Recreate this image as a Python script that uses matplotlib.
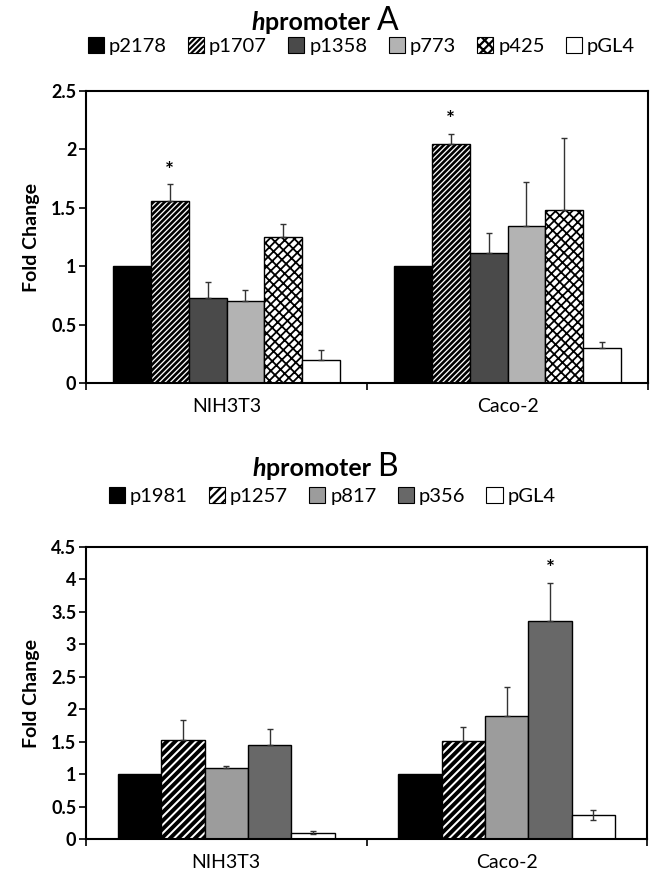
import matplotlib
matplotlib.use("Agg")
import matplotlib.pyplot as plt
import numpy as np
from matplotlib.patches import Patch
from matplotlib.offsetbox import TextArea, HPacker, AnchoredOffsetbox

plt.rcParams['font.family'] = ['Lato', 'DejaVu Sans']
plt.rcParams['hatch.linewidth'] = 1.6

# ---- data ----
groups = ["NIH3T3", "Caco-2"]

a_series = ["p2178", "p1707", "p1358", "p773", "p425", "pGL4"]
a_nih = [1.00, 1.56, 0.725, 0.70, 1.25, 0.20]
a_caco = [1.00, 2.05, 1.11, 1.34, 1.48, 0.30]
a_err_nih = [0.0, 0.14, 0.14, 0.10, 0.11, 0.08]
a_err_caco = [0.0, 0.085, 0.17, 0.38, 0.62, 0.05]
a_star = [(0, "p1707"), (1, "p1707")]

b_series = ["p1981", "p1257", "p817", "p356", "pGL4"]
b_nih = [1.00, 1.52, 1.09, 1.45, 0.10]
b_caco = [1.00, 1.51, 1.90, 3.36, 0.37]
b_err_nih = [0.0, 0.32, 0.04, 0.24, 0.03]
b_err_caco = [0.0, 0.22, 0.45, 0.59, 0.08]
b_star = [(1, "p356")]

# ---- styles ----
a_styles = {
    "p2178": dict(color="#000000", hatch=None, hlw=1.0),
    "p1707": dict(color="#ffffff", hatch="//////", hlw=1.9),
    "p1358": dict(color="#4a4a4a", hatch=None, hlw=1.0),
    "p773": dict(color="#b3b3b3", hatch=None, hlw=1.0),
    "p425": dict(color="#ffffff", hatch="////\\\\\\", hlw=1.3),
    "pGL4": dict(color="#ffffff", hatch=None, hlw=1.0),
}
b_styles = {
    "p1981": dict(color="#000000", hatch=None, hlw=1.0),
    "p1257": dict(color="#ffffff", hatch="////", hlw=2.8),
    "p817": dict(color="#9c9c9c", hatch=None, hlw=1.0),
    "p356": dict(color="#686868", hatch=None, hlw=1.0),
    "pGL4": dict(color="#ffffff", hatch=None, hlw=1.0),
}

fig = plt.figure(figsize=(6.5, 8.73), dpi=100)


def title(y, letter):
    parts = [
        TextArea("h", textprops=dict(fontsize=18, fontweight="bold", fontstyle="italic")),
        TextArea("promoter ", textprops=dict(fontsize=18, fontweight="bold")),
        TextArea(letter, textprops=dict(fontsize=23)),
    ]
    box = HPacker(children=parts, align="baseline", pad=0, sep=0)
    ab = AnchoredOffsetbox(loc="center", child=box, frameon=False,
                           bbox_to_anchor=(0.5, y), bbox_transform=fig.transFigure,
                           borderpad=0, pad=0)
    fig.add_artist(ab)


def set_hlw(artist, lw):
    try:
        artist.set_hatch_linewidth(lw)
    except Exception:
        artist._hatch_linewidth = lw


def panel(rect, series, styles, nih, caco, err_nih, err_caco, stars, ymax, ystep,
          width, sym_last, legend_y, legend_x, colspace):
    ax = fig.add_axes(rect)
    n = len(series)
    x = np.arange(len(groups))
    for i, s in enumerate(series):
        off = (i - (n - 1) / 2) * width
        vals = [nih[i], caco[i]]
        errs = [err_nih[i], err_caco[i]]
        st = styles[s]
        bars = ax.bar(x + off, vals, width, color=st["color"], hatch=st["hatch"],
                      edgecolor="black", linewidth=1.0, zorder=2, label=s)
        for b in bars:
            set_hlw(b, st["hlw"])
        for g in range(len(groups)):
            if errs[g] > 0:
                lower = errs[g] if (sym_last and s == "pGL4") else 0
                ax.errorbar(x[g] + off, vals[g], yerr=[[lower], [errs[g]]],
                            fmt="none", ecolor="#333333", elinewidth=1.0,
                            capsize=2, capthick=1.0, zorder=3)
            if (g, s) in stars:
                ax.text(x[g] + off, vals[g] + errs[g] + ymax * 0.012, "*",
                        ha="center", va="bottom", fontsize=15, fontweight="bold")
    ax.set_xlim(-0.5, 1.5)
    ax.set_ylim(0, ymax)
    ticks = np.arange(0, ymax + 1e-9, ystep)
    ax.set_yticks(ticks)
    ax.set_yticklabels([f"{t:g}" for t in ticks], fontsize=13, fontweight="bold")
    ax.set_xticks([-0.5, 0.5, 1.5])
    ax.set_xticklabels([])
    ax.set_xticks(x, minor=True)
    ax.set_xticklabels(groups, minor=True, fontsize=14)
    ax.tick_params(axis="x", which="minor", length=0, pad=11)
    ax.tick_params(axis="x", which="major", direction="out", length=5, width=1.2)
    ax.tick_params(axis="y", direction="out", length=5, width=1.2, pad=2)
    for sp in ax.spines.values():
        sp.set_linewidth(1.5)
    ax.set_ylabel("Fold Change", fontsize=14, fontweight="bold", labelpad=8)
    handles = []
    for s in series:
        p = Patch(facecolor=styles[s]["color"], hatch=styles[s]["hatch"],
                  edgecolor="black", linewidth=0.8, label=s)
        set_hlw(p, 1.0)
        handles.append(p)
    fig.legend(handles=handles, loc="center", bbox_to_anchor=(legend_x, legend_y),
               ncol=n, frameon=False, fontsize=14.5, handlelength=0.8,
               handleheight=0.8, handletextpad=0.25, columnspacing=colspace,
               borderaxespad=0)
    return ax


title(1 - 21 / 873, "A")
panel([86 / 650, 1 - 383 / 873, 562 / 650, 292 / 873], a_series, a_styles,
      a_nih, a_caco, a_err_nih, a_err_caco, a_star, 2.5, 0.5, 0.1347, False,
      1 - 46 / 873, 0.556, 1.05)

title(1 - 467 / 873, "B")
panel([86 / 650, 1 - 839 / 873, 561 / 650, 292 / 873], b_series, b_styles,
      b_nih, b_caco, b_err_nih, b_err_caco, b_star, 4.5, 0.5, 0.1546, True,
      1 - 496 / 873, 0.511, 1.05)

fig.savefig("out.png", dpi=100)
